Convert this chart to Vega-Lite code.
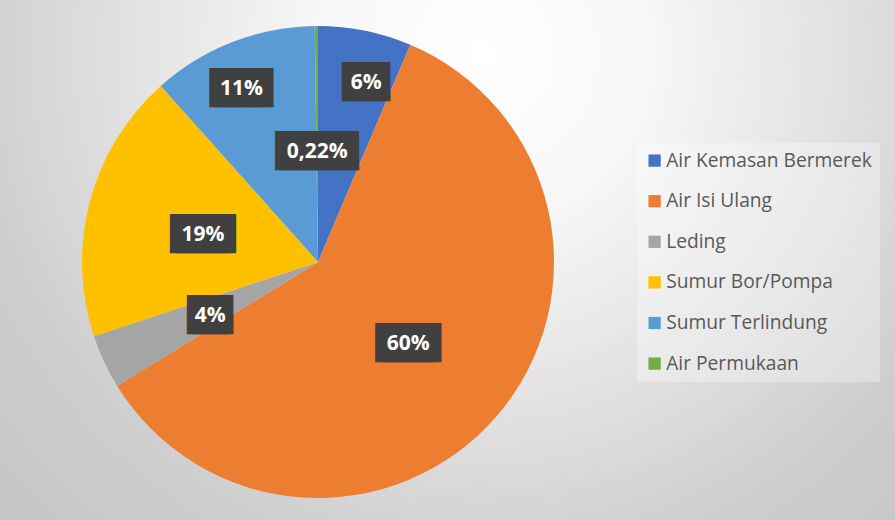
{
  "$schema": "https://vega.github.io/schema/vega-lite/v6.json",
  "width": 895,
  "height": 520,
  "autosize": "none",
  "padding": 0,
  "background": "#d4d4d4",
  "config": {"view": {"stroke": null}},
  "data": {"values": [
    {"idx": 1, "source": "Air Kemasan Bermerek", "value": 6.4, "label": "6%"},
    {"idx": 2, "source": "Air Isi Ulang", "value": 59.8, "label": "60%"},
    {"idx": 3, "source": "Leding", "value": 3.7, "label": "4%"},
    {"idx": 4, "source": "Sumur Bor/Pompa", "value": 18.5, "label": "19%"},
    {"idx": 5, "source": "Sumur Terlindung", "value": 11.38, "label": "11%"},
    {"idx": 6, "source": "Air Permukaan", "value": 0.22, "label": "0,22%"}
  ]},
  "encoding": {
    "x": {"datum": 0.3553, "type": "quantitative", "scale": {"domain": [0, 1]}, "axis": null},
    "y": {"datum": 0.4962, "type": "quantitative", "scale": {"domain": [0, 1]}, "axis": null},
    "theta": {"field": "value", "type": "quantitative", "stack": true},
    "order": {"field": "idx", "type": "quantitative"}
  },
  "layer": [
    {
      "data": {"values": [{"bg": 1}]},
      "mark": {"type": "rect", "fill": {"gradient": "radial", "x1": 0.54, "y1": 0.27, "r1": 0, "x2": 0.54, "y2": 0.27, "r2": 0.78,
        "stops": [{"offset": 0, "color": "#ffffff"}, {"offset": 0.25, "color": "#f6f6f6"}, {"offset": 0.53, "color": "#e0e0e0"}, {"offset": 0.75, "color": "#cdcdcd"}, {"offset": 1, "color": "#c4c4c4"}]}},
      "encoding": {"theta": null, "order": null, "x": null, "y": null}
    },
    {
      "mark": {"type": "arc", "radius": 236},
      "encoding": {
        "color": {"field": "source", "type": "nominal",
          "scale": {"domain": ["Air Kemasan Bermerek", "Air Isi Ulang", "Leding", "Sumur Bor/Pompa", "Sumur Terlindung", "Air Permukaan"],
                    "range": ["#4472C4", "#ED7D31", "#A5A5A5", "#FFC000", "#5B9BD5", "#70AD47"]},
          "legend": {"title": null, "orient": "none", "legendX": 637, "legendY": 143,
            "symbolType": "square", "symbolSize": 150, "symbolStrokeWidth": 0,
            "labelFont": "Open Sans", "labelFontSize": 19.2, "labelColor": "#595959", "labelOffset": 2, "labelLimit": 300,
            "rowPadding": 20.6, "padding": 8, "fillColor": "rgba(255,255,255,0.3)"}}
      }
    },
    {
      "mark": {"type": "text", "radius": 186, "font": "DejaVu Sans Mono", "fontSize": 33, "color": "#404040", "dx": 7, "dy": 3, "baseline": "middle"},
      "encoding": {"text": {"condition": [{"test": "datum.label === '6%'", "value": "██"}], "value": ""}}
    },
    {
      "mark": {"type": "text", "radius": 186, "font": "DejaVu Sans Mono", "fontSize": 33, "color": "#404040", "dx": 15, "dy": 3, "baseline": "middle"},
      "encoding": {"text": {"condition": [{"test": "datum.label === '6%'", "value": "██"}], "value": ""}}
    },
    {
      "mark": {"type": "text", "radius": 186, "font": "Open Sans", "fontSize": 21, "fontWeight": "bold", "color": "#ffffff", "baseline": "middle", "dx": 11, "dy": 3},
      "encoding": {"text": {"condition": {"test": "datum.label === '6%'", "field": "label"}, "value": ""}}
    },
    {
      "mark": {"type": "text", "radius": 186, "font": "DejaVu Sans Mono", "fontSize": 33, "color": "#404040", "dx": -11, "baseline": "middle"},
      "encoding": {"text": {"condition": [{"test": "datum.label === '11%'", "value": "███"}], "value": ""}}
    },
    {
      "mark": {"type": "text", "radius": 186, "font": "DejaVu Sans Mono", "fontSize": 33, "color": "#404040", "dx": -7, "baseline": "middle"},
      "encoding": {"text": {"condition": [{"test": "datum.label === '11%'", "value": "███"}], "value": ""}}
    },
    {
      "mark": {"type": "text", "radius": 186, "font": "Open Sans", "fontSize": 21, "fontWeight": "bold", "color": "#ffffff", "baseline": "middle", "dx": -9},
      "encoding": {"text": {"condition": {"test": "datum.label === '11%'", "field": "label"}, "value": ""}}
    },
    {
      "mark": {"type": "text", "radius": 119, "font": "DejaVu Sans Mono", "fontSize": 33, "color": "#404040", "dx": -3, "dy": 4, "baseline": "middle"},
      "encoding": {"text": {"condition": [{"test": "datum.label === '4%'", "value": "██"}, {"test": "datum.label === '19%' || datum.label === '60%'", "value": "███"}], "value": ""}}
    },
    {
      "mark": {"type": "text", "radius": 119, "font": "DejaVu Sans Mono", "fontSize": 33, "color": "#404040", "dx": 3, "dy": 4, "baseline": "middle"},
      "encoding": {"text": {"condition": [{"test": "datum.label === '4%'", "value": "██"}, {"test": "datum.label === '19%' || datum.label === '60%'", "value": "███"}], "value": ""}}
    },
    {
      "mark": {"type": "text", "radius": 119, "font": "Open Sans", "fontSize": 21, "fontWeight": "bold", "color": "#ffffff", "baseline": "middle", "dy": 4},
      "encoding": {"text": {"condition": {"test": "datum.label === '4%' || datum.label === '19%' || datum.label === '60%'", "field": "label"}, "value": ""}}
    },
    {
      "mark": {"type": "text", "radius": 110, "font": "DejaVu Sans Mono", "fontSize": 33, "color": "#404040", "dx": -2, "baseline": "middle"},
      "encoding": {"text": {"condition": {"test": "datum.label === '0,22%'", "value": "████"}, "value": ""}}
    },
    {
      "mark": {"type": "text", "radius": 110, "font": "DejaVu Sans Mono", "fontSize": 33, "color": "#404040", "dx": 2, "baseline": "middle"},
      "encoding": {"text": {"condition": {"test": "datum.label === '0,22%'", "value": "████"}, "value": ""}}
    },
    {
      "mark": {"type": "text", "radius": 110, "font": "Open Sans", "fontSize": 21, "fontWeight": "bold", "color": "#ffffff", "baseline": "middle"},
      "encoding": {"text": {"condition": {"test": "datum.label === '0,22%'", "field": "label"}, "value": ""}}
    }
  ]
}
